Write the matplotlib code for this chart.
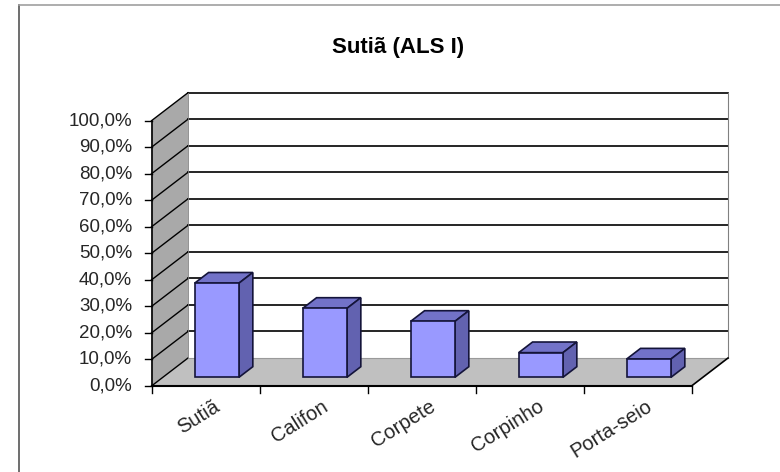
import matplotlib.pyplot as plt
from matplotlib.patches import Polygon
from matplotlib.lines import Line2D

plt.rcParams['font.family'] = ['Liberation Sans', 'DejaVu Sans']

categories = ['Sutiã', 'Califon', 'Corpete', 'Corpinho', 'Porta-seio']
values = [35.5, 26.0, 21.1, 9.3, 6.9]
y_ticks = [0, 10, 20, 30, 40, 50, 60, 70, 80, 90, 100]
y_labels = ['%d,0%%' % t for t in y_ticks]
title = 'Sutiã (ALS I)'

# oblique projection: depth offset in data units (category / percent)
DX = 0.338
DY = 10.55
D0, D1 = 0.31, 0.69      # bar front / back depth
GAP = 0.295              # gap each side of a bar inside a slot


def P(x, y, d):
    return (x + d * DX, y + d * DY)


fig = plt.figure(figsize=(7.8, 4.72), dpi=100)
ax = fig.add_axes([0, 0, 1, 1])
ax.set_xlim(-151.5 / 108, (780 - 151.5) / 108)
ax.set_ylim(-86 / 2.653, 386 / 2.653)
ax.axis('off')

n = len(categories)
top = y_ticks[-1]

# walls and floor
ax.add_patch(Polygon([P(0, 0, 1), P(n, 0, 1), P(n, top, 1), P(0, top, 1)],
                     closed=True, facecolor='white', edgecolor='none', zorder=1))
ax.add_patch(Polygon([P(0, 0, 0), P(0, 0, 1), P(0, top, 1), P(0, top, 0)],
                     closed=True, facecolor='#a9a9a9', edgecolor='none', zorder=1))
ax.add_patch(Polygon([P(0, 0, 0), P(n, 0, 0), P(n, 0, 1), P(0, 0, 1)],
                     closed=True, facecolor='#c0c0c0', edgecolor='none', zorder=1))

# grid lines on back wall and side wall
for t in y_ticks:
    if t > 0:
        a, b = P(0, t, 1), P(n, t, 1)
        ax.plot([a[0], b[0]], [a[1], b[1]], color='black', lw=1.2, zorder=2)
    a, b = P(0, t, 0), P(0, t, 1)
    ax.plot([a[0], b[0]], [a[1], b[1]], color='black', lw=1.0, zorder=2)
a, b = P(0, 0, 1), P(n, 0, 1)
ax.plot([a[0], b[0]], [a[1], b[1]], color='#9a9a9a', lw=0.8, zorder=2)
a, b = P(n, 0, 1), P(n, top, 1)
ax.plot([a[0], b[0]], [a[1], b[1]], color='#808080', lw=0.8, zorder=2)
a, b = P(0, 0, 1), P(0, top, 1)
ax.plot([a[0], b[0]], [a[1], b[1]], color='#808080', lw=0.6, zorder=2)

# axes lines
ax.plot([0, 0], [0, top], color='black', lw=1.2, zorder=3)
ax.plot([0, n], [0, 0], color='black', lw=1.5, zorder=3)
a = P(n, 0, 1)
ax.plot([n, a[0]], [0, a[1]], color='black', lw=1.2, zorder=3)

# y ticks and labels
for t, lab in zip(y_ticks, y_labels):
    ax.plot([-0.056, 0], [t, t], color='black', lw=1.0, zorder=3)
    ax.text(-0.18, t, lab, ha='right', va='center', fontsize=13.5, color='#262626')

# x ticks and labels
for i in range(n + 1):
    ax.plot([i, i], [0, -2.7], color='black', lw=1.0, zorder=3)
for i, lab in enumerate(categories):
    ax.text(i + 0.57, -4.0, lab, rotation=32, rotation_mode='anchor',
            ha='right', va='top', fontsize=14.5, color='#262626')

# bars
edge = '#14143a'
for i, v in enumerate(values):
    x0, x1 = i + GAP, i + 1 - GAP
    front = [P(x0, 0, D0), P(x1, 0, D0), P(x1, v, D0), P(x0, v, D0)]
    lid = [P(x0, v, D0), P(x1, v, D0), P(x1, v, D1), P(x0, v, D1)]
    side = [P(x1, 0, D0), P(x1, 0, D1), P(x1, v, D1), P(x1, v, D0)]
    ax.add_patch(Polygon(lid, closed=True, facecolor='#7272c8', edgecolor=edge, lw=1.2, zorder=4))
    ax.add_patch(Polygon(side, closed=True, facecolor='#6262b0', edgecolor=edge, lw=1.2, zorder=4))
    ax.add_patch(Polygon(front, closed=True, facecolor='#9999ff', edgecolor=edge, lw=1.2, zorder=5))

# title
fig.text(398 / 780, 1 - 47 / 472, title, ha='center', va='center',
         fontsize=16, fontweight='bold')

# chart border
fig.add_artist(Line2D([19 / 780, 19 / 780], [0, 1 - 5 / 472], color='#555555', lw=1.2,
                      transform=fig.transFigure))
fig.add_artist(Line2D([19 / 780, 1], [1 - 5 / 472, 1 - 5 / 472], color='#a0a0a0', lw=1.2,
                      transform=fig.transFigure))

fig.savefig('out.png', dpi=100)
